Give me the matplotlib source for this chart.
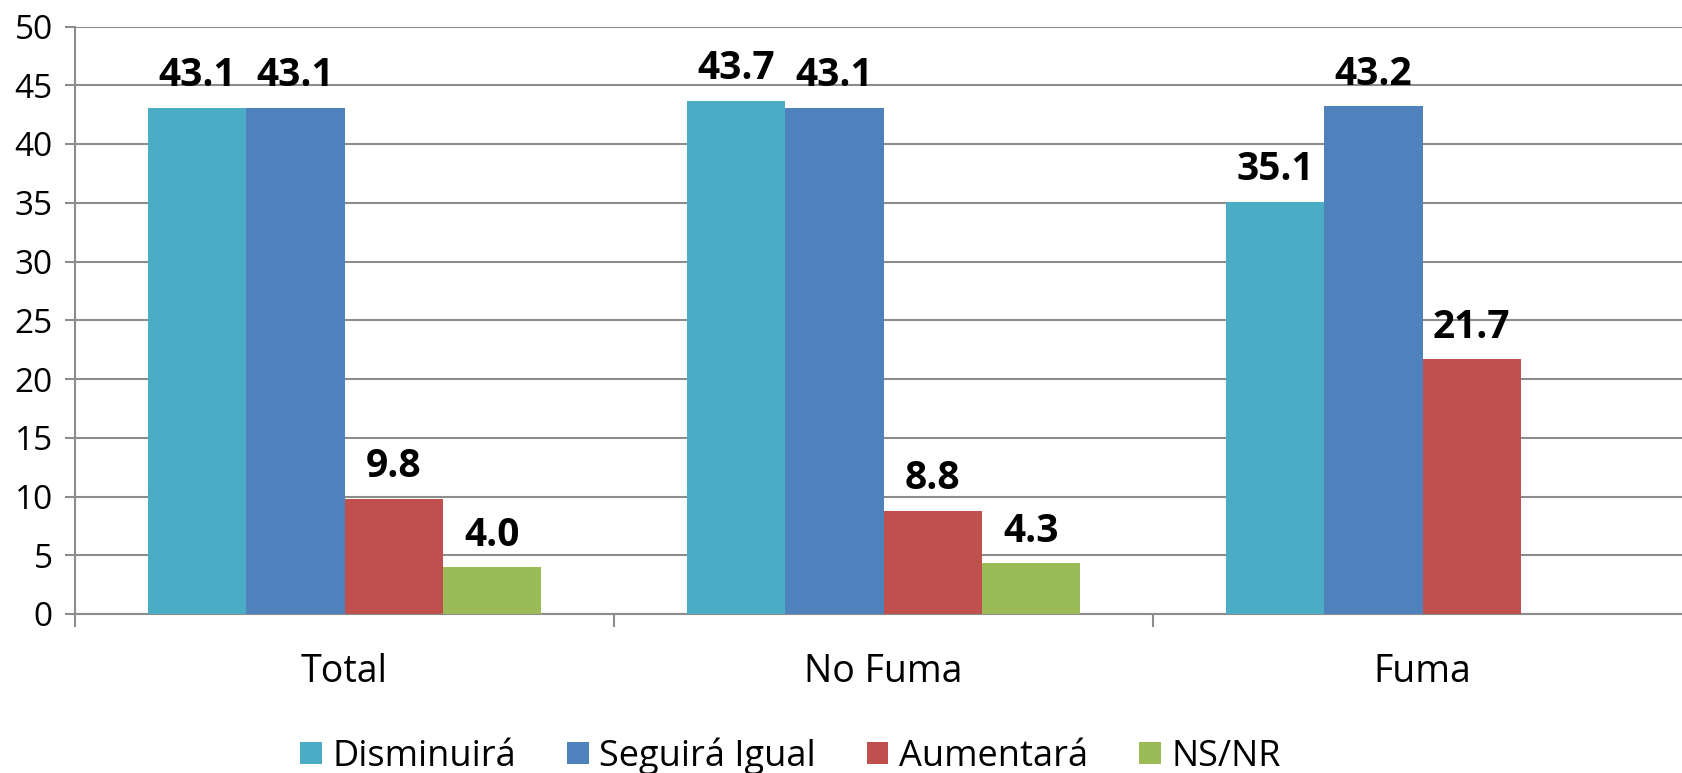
import matplotlib.pyplot as plt
import numpy as np

plt.rcParams['font.family'] = ['Open Sans', 'DejaVu Sans']

categorias = ['Total', 'No Fuma', 'Fuma']
series = ['Disminuirá', 'Seguirá Igual', 'Aumentará', 'NS/NR']
disminuira = [43.1, 43.7, 35.1]
seguira_igual = [43.1, 43.1, 43.2]
aumentara = [9.8, 8.8, 21.7]
ns_nr = [4.0, 4.3, np.nan]

valores = [disminuira, seguira_igual, aumentara, ns_nr]
colores = ['#4BACC6', '#4F81BD', '#C0504D', '#9BBB59']

fig = plt.figure(figsize=(16.82, 7.73), dpi=100)
ax = fig.add_axes([75 / 1682, 1 - 614 / 773, 1617 / 1682, (614 - 26.5) / 773])

x = np.arange(len(categorias))
ancho = 0.182
for i, (vals, col, nombre) in enumerate(zip(valores, colores, series)):
    pos = x + (i - 1.5) * ancho
    ax.bar(pos, vals, width=ancho, color=col, label=nombre, zorder=3)
    for p, v in zip(pos, vals):
        if np.isnan(v):
            continue
        ax.annotate(f'{v:.1f}', (p, v), xytext=(0, 9), textcoords='offset points',
                    ha='center', va='bottom', fontsize=28, fontweight='bold')

ax.set_ylim(0, 50)
ax.set_yticks(np.arange(0, 51, 5))
ax.set_xlim(-0.5, 2.5)
ax.grid(axis='y', color='#8C8C8C', linewidth=1.5, zorder=0)
ax.tick_params(axis='y', labelsize=24, length=7, color='#8C8C8C', width=1.5, pad=9)

ax.set_xticks([-0.5, 0.5, 1.5, 2.5])
ax.set_xticklabels([])
ax.tick_params(axis='x', which='major', length=9, color='#8C8C8C', width=1.5)
ax.set_xticks(x, minor=True)
ax.set_xticklabels(categorias, minor=True, fontsize=27)
ax.tick_params(axis='x', which='minor', length=0, pad=28)

for lado in ['top', 'right']:
    ax.spines[lado].set_visible(False)
for lado in ['left', 'bottom']:
    ax.spines[lado].set_color('#8C8C8C')
    ax.spines[lado].set_linewidth(1.5)

fig.legend(loc='center', bbox_to_anchor=(0.47, 0.022), ncol=4, frameon=False,
           fontsize=26, handlelength=0.6, handleheight=0.6, handletextpad=0.3,
           columnspacing=1.4, borderaxespad=0)

plt.savefig('out.png', dpi=100)
plt.close()
